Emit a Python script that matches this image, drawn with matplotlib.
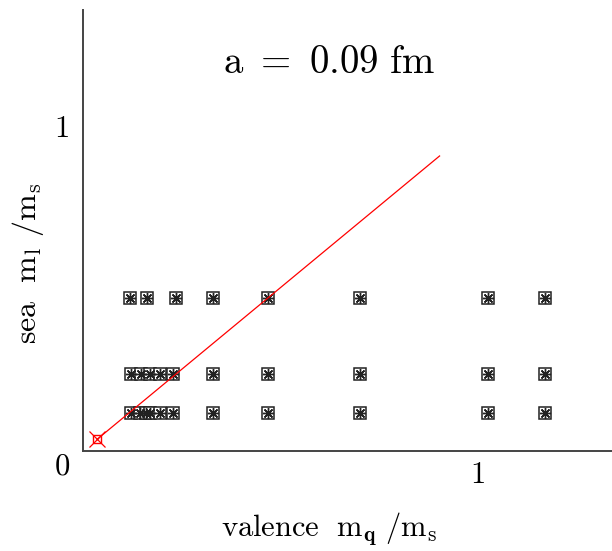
import matplotlib
matplotlib.use("Agg")
import matplotlib.pyplot as plt

plt.rcParams["mathtext.fontset"] = "cm"
plt.rcParams["font.family"] = "serif"

# valence m_q/m_s for each sea-mass row
sea_top = 0.47
val_top = [0.119, 0.162, 0.236, 0.330, 0.470, 0.703, 1.028, 1.173]
sea_mid = 0.235
val_mid = [0.121, 0.147, 0.170, 0.195, 0.228, 0.330, 0.470, 0.703, 1.028, 1.173]
sea_low = 0.117
val_low = [0.121, 0.145, 0.160, 0.170, 0.195, 0.228, 0.330, 0.470, 0.703, 1.028, 1.173]

# physical point and diagonal m_l = m_q
phys = [0.036]
diag = [0.036, 0.905]

fig = plt.figure(figsize=[6.12, 5.51], dpi=100)
ax = fig.add_axes([83 / 612, 100 / 551, 529 / 612, 441 / 551])

for vals, sea in [(val_top, sea_top), (val_mid, sea_mid), (val_low, sea_low)]:
    ys = [sea] * len(vals)
    ax.plot(vals, ys, linestyle="none", marker="s", markersize=9,
            markerfacecolor="white", markeredgecolor="#222222", markeredgewidth=1.1)
    ax.plot(vals, ys, linestyle="none", marker=(8, 2, 0), markersize=8,
            markeredgecolor="#222222", markeredgewidth=1.0)

ax.plot(diag, diag, color="red", linewidth=0.9)
ax.plot(phys, phys, linestyle="none", marker="s", markersize=6,
        markerfacecolor="none", markeredgecolor="red", markeredgewidth=1.0)
ax.plot(phys, phys, linestyle="none", marker="x", markersize=11,
        markeredgecolor="red", markeredgewidth=0.9)

ax.set_xlim(0, 529 / 394)
ax.set_ylim(0, 441 / 326)
for s in ["top", "right"]:
    ax.spines[s].set_visible(False)
for s in ["left", "bottom"]:
    ax.spines[s].set_linewidth(1.4)
    ax.spines[s].set_color("#444444")

ax.set_xticks([1])
ax.set_yticks([1])
ax.set_xticklabels([r"$\mathrm{1}$"], fontsize=22)
ax.set_yticklabels([r"$\mathrm{1}$"], fontsize=22)
ax.tick_params(axis="x", length=0, pad=6)
ax.tick_params(axis="y", length=0, pad=10)
ax.text(-0.04, -0.035, r"$\mathrm{0}$", transform=ax.transAxes,
        fontsize=22, ha="center", va="center")

ax.text(0.465, 0.882, r"$\mathrm{a\ =\ 0.09\ fm}$", transform=ax.transAxes,
        fontsize=28, ha="center", va="center")

fig.text(329 / 612, 1 - 529 / 551, r"$\mathrm{valence\ \ m_{\mathbf{q}}\ /m_s}$",
         fontsize=22, ha="center", va="center")
fig.text(28 / 612, 1 - 263 / 551, r"$\mathrm{sea\ \ m_l\ /m_s}$",
         fontsize=23, ha="center", va="center", rotation=90)

plt.savefig("out.png")
